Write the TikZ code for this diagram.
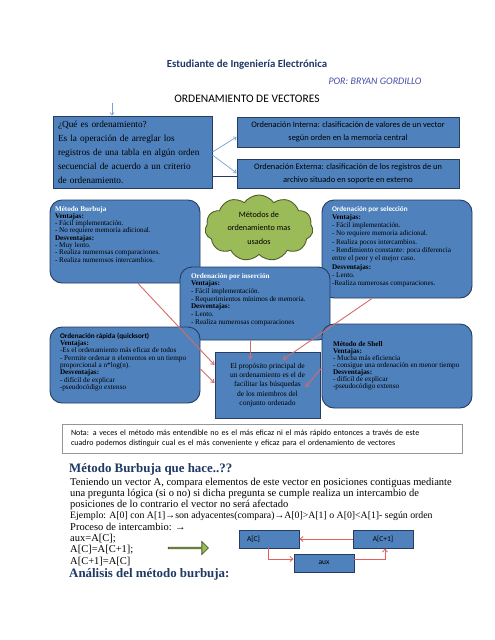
\documentclass[tikz,border=0pt]{standalone}
\usepackage{fontspec}
\setmainfont{Liberation Serif}
\setsansfont{Carlito}
\usetikzlibrary{
  shapes.symbols,
  shapes.arrows,
  arrows.meta,
  positioning,
  calc
}
\definecolor{boxcolor}{RGB}{79, 129, 189}
\definecolor{boxborder}{RGB}{38, 60, 96}
\definecolor{cloudcolor}{RGB}{155, 187, 89}
\definecolor{cloudborder}{RGB}{76, 96, 40}
\definecolor{linkcolor}{RGB}{212, 108, 108}
\definecolor{swapcolor}{RGB}{226, 96, 96}
\definecolor{topcolor}{RGB}{120, 160, 212}
\definecolor{headcolor}{RGB}{31, 56, 100}
\definecolor{authorcolor}{RGB}{72, 78, 170}
\definecolor{notaborder}{RGB}{150, 150, 150}
\newcommand{\boxlines}[4][t]{\parbox[t][#2][#1]{#3}{\raggedright #4}}
\tikzset{
sqbox/.style={
  draw=boxborder,
  line width=0.9pt,
  fill=boxcolor,
  inner sep=0pt
},
methodbox/.style={
  draw=boxborder,
  line width=0.9pt,
  fill=boxcolor,
  rounded corners=12pt,
  inner ysep=6pt,
  inner xsep=#1
},
cloudbox/.style={
  cloud,
  cloud puffs=11,
  cloud puff arc=110,
  cloud ignores aspect,
  draw=cloudborder,
  line width=0.9pt,
  fill=cloudcolor,
  align=center,
  inner sep=0pt,
  font=\sffamily\fontsize{8.2}{13.5}\selectfont
},
notabox/.style={
  draw=notaborder,
  line width=0.6pt,
  fill=white,
  align=left,
  inner xsep=9pt,
  font=\sffamily\fontsize{8}{10}\selectfont
},
swapbox/.style={
  sqbox,
  minimum width=60pt,
  minimum height=18pt,
  font=\sffamily\fontsize{7.5}{9}\selectfont
},
bodytext/.style={
  anchor=base west,
  inner sep=0pt,
  font=\fontsize{10.5}{11.3}\selectfont
},
headtext/.style={
  anchor=base west,
  inner sep=0pt,
  font=\bfseries\fontsize{12.9}{15}\selectfont
},
linkarrow/.style={
  -{Straight Barb[length=3pt,width=4.5pt]},
  line width=0.9pt,
  draw=linkcolor
},
toparrow/.style={
  -{Straight Barb[length=2.5pt,width=4pt]},
  line width=0.7pt,
  draw=topcolor
},
swaparrow/.style={
  -{Straight Barb[length=3pt,width=5pt]},
  line width=0.8pt,
  draw=swapcolor
}
}

\begin{document}
\begin{tikzpicture}[x=1pt, y=-1pt]
  \useasboundingbox[fill=white] (0,0) rectangle (495,640);

  % titles
  \node[font=\sffamily\bfseries\fontsize{10.8}{12}\selectfont, text=headcolor] (title) at (247,65) {Estudiante de Ingeniería Electrónica};
  \node[font=\sffamily\itshape\fontsize{10}{11}\selectfont, text=authorcolor] (author) at (375,81) {POR: BRYAN GORDILLO};
  \node[font=\sffamily\fontsize{11.5}{12}\selectfont] (topic) at (247,99) {ORDENAMIENTO DE VECTORES};

  % definition and the two kinds
  \node[sqbox, minimum width=159pt, minimum height=72pt, text width=149pt, align=left,
        font=\fontsize{9.3}{14}\selectfont] (queord) at (132.5,152)
    {¿Qué es ordenamiento?\\
     Es la operación de arreglar los\\
     registros de una tabla en algún orden\\
     secuencial de acuerdo a un criterio\\
     de ordenamiento.};
  \node[sqbox, minimum width=222pt, minimum height=30pt, align=center,
        font=\sffamily\fontsize{8.4}{13.5}\selectfont] (interna) at (348,132)
    {Ordenación Interna: clasificación de valores de un vector\\
     según orden en la memoria central};
  \node[sqbox, minimum width=222pt, minimum height=29pt, align=center,
        font=\sffamily\fontsize{8.4}{13}\selectfont] (externa) at (348,174)
    {Ordenación Externa: clasificación de los registros de un\\
     archivo situado en soporte en externo};

  \coordinate (topstart) at (112,103);
  \draw[toparrow] (topstart) -- ([xshift=-20.5pt]queord.north);
  \draw[toparrow] (queord.east) -- ([yshift=-5pt]interna.west);
  \draw[toparrow] ([yshift=-3pt]queord.east) -- ([yshift=1pt]externa.west);
  \draw[boxborder, line width=0.9pt] ([yshift=-24pt]queord.east) -- ([yshift=-2pt]externa.west);

  % methods
  \node[cloudbox, minimum width=108pt, minimum height=66pt] (metodos) at (259,228)
    {Métodos de\\ ordenamiento mas\\ usados};

  \node[methodbox=5pt, font=\fontsize{7.2}{7.3}\selectfont] (burbuja) at (125,241.5)
    {\boxlines{71pt}{140pt}{%
      \textcolor{white}{\textbf{Método Burbuja}}\\
      \textbf{Ventajas:}\\
      - Fácil implementación.\\
      - No requiere memoria adicional.\\
      \textbf{Desventajas:}\\
      - Muy lento.\\
      - Realiza numerosas comparaciones.\\
      - Realiza numerosos intercambios.}};

  \node[methodbox=10pt, font=\fontsize{7.2}{8.3}\selectfont] (selec) at (397,249)
    {\boxlines{86pt}{130pt}{%
      \textcolor{white}{\sffamily\bfseries Ordenación por selección}\\
      \textbf{Ventajas:}\\
      - Fácil implementación.\\
      - No requiere memoria adicional.\\
      - Realiza pocos intercambios.\\
      - Rendimiento constante: poca diferencia\\
      entre el peor y el mejor caso.\\
      \textbf{Desventajas:}\\
      - Lento.\\
      -Realiza numerosas comparaciones.}};

  \node[methodbox=11pt, font=\fontsize{7.2}{7.7}\selectfont] (inserc) at (255,303.5)
    {\boxlines{61pt}{128pt}{%
      \textcolor{white}{\textbf{Ordenación por inserción}}\\
      \textbf{Ventajas:}\\
      - Fácil implementación.\\
      - Requerimientos mínimos de memoria.\\
      \textbf{Desventajas:}\\
      - Lento.\\
      - Realiza numerosas comparaciones}};

  \node[methodbox=10pt, font=\fontsize{7.2}{7.3}\selectfont] (quick) at (125,365)
    {\boxlines{64pt}{130pt}{%
      {\sffamily\bfseries Ordenación rápida (quicksort)}\\
      \textbf{Ventajas:}\\
      -Es el ordenamiento más eficaz de todos\\
      - Permite ordenar n elementos en un tiempo\\
      proporcional a n*log(n).\\
      \textbf{Desventajas:}\\
      - difícil de explicar\\
      -pseudocódigo extenso}};

  \node[methodbox=11pt, font=\fontsize{7.2}{7}\selectfont] (shell) at (397,366)
    {\boxlines[c]{72pt}{128pt}{%
      \textbf{Método de Shell}\\
      \textbf{Ventajas:}\\
      - Mucha más eficiencia\\
      - consigue una ordenación en menor tiempo\\
      \textbf{Desventajas:}\\
      - difícil de explicar\\
      -pseudocódigo extenso}};

  \node[sqbox, minimum width=105pt, minimum height=66pt, align=center,
        font=\fontsize{7.5}{9.2}\selectfont] (proposito) at (267.5,385)
    {El propósito principal de\\
     un ordenamiento es el de\\
     facilitar las búsquedas\\
     de los miembros del\\
     conjunto ordenado};

  \draw[linkarrow] ([xshift=13pt]burbuja.south) -- ([yshift=20pt]proposito.west);
  \draw[linkarrow] ([yshift=-4pt]quick.east) -- ([yshift=2pt]proposito.west);
  \draw[linkarrow] ([xshift=-5pt]inserc.south) -- ([xshift=-17.5pt,yshift=-8pt]proposito.north);
  \draw[linkarrow] ([xshift=-25pt]selec.south) -- ([xshift=15.5pt,yshift=-8pt]proposito.north);
  \draw[linkarrow] ([yshift=-2pt]shell.west) -- ([xshift=-15pt,yshift=-2pt]proposito.east);

  % note
  \node[notabox, minimum width=400pt, minimum height=29pt, text width=382pt] (nota) at (262,438.5)
    {Nota: a veces el método más entendible no es el más eficaz ni el más rápido entonces a través de este\\
     cuadro podemos distinguir cual es el más conveniente y eficaz para el ordenamiento de vectores};

  % bubble sort text
  \node[headtext] (burbhead) at (69,472) {\textcolor{headcolor}{Método Burbuja que hace..??}};
  \foreach \txt [count=\i] in {
    {Teniendo un vector A, compara elementos de este vector en posiciones contiguas mediante},
    {una pregunta lógica (si o no) si dicha pregunta se cumple realiza un intercambio de},
    {posiciones de lo contrario el vector no será afectado},
    {{\fontsize{9.8}{11.3}\selectfont Ejemplo: A[0] con A[1]→son adyacentes(compara)→A[0]>A[1] o A[0]<A[1]- según orden}},
    {Proceso de intercambio: →},
    {aux=A[C];},
    {A[C]=A[C+1];},
    {A[C+1]=A[C]}}
    \node[bodytext] (body\i) at (70,{485+11.3*(\i-1)}) {\txt};
  \node[headtext] (analisis) at (69,577) {\textcolor{headcolor}{Análisis del método burbuja:}};

  \node[single arrow, draw=cloudborder, line width=0.8pt, fill=cloudcolor,
        minimum height=40pt, minimum width=13pt, single arrow head extend=3pt,
        inner sep=0pt] (swapgo) at (188,548) {};

  % swap diagram
  \node[swapbox, text width=44pt, inner xsep=8pt, align=left] (ac) at (269,539) {A[C]};
  \node[swapbox] (acplus) at (383,539) {A[C+1]};
  \node[swapbox] (aux) at (324,563) {aux};
  \draw[swaparrow] (acplus.west) -- (ac.east);
  \draw[swaparrow] ([xshift=-1pt]ac.south) |- ([yshift=4pt]aux.west);
  \draw[swaparrow] ([yshift=4pt]aux.east) -| ([xshift=2pt]acplus.south);
\end{tikzpicture}
\end{document}
